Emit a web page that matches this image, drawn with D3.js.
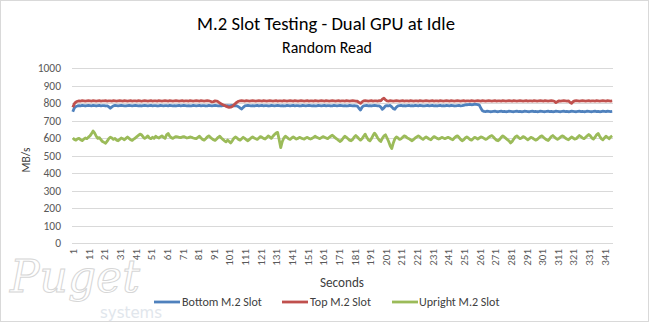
<!DOCTYPE html>
<html>
<head>
<meta charset="utf-8">
<script src="https://cdn.jsdelivr.net/npm/d3@7"></script>
<style>
  html, body { margin: 0; padding: 0; background: #fff; }
  svg { display: block; }
  text { font-family: Calibri, Carlito, Lato, "Open Sans", sans-serif; }
</style>
</head>
<body>
<svg id="chart" width="650" height="323"></svg>
<script>
// ---------------- DATA ----------------
const chartTitle = "M.2 Slot Testing - Dual GPU at Idle";
const chartSubtitle = "Random Read";
const yAxisTitle = "MB/s";
const xAxisTitle = "Seconds";
const seriesNames = ["Bottom M.2 Slot", "Top M.2 Slot", "Upright M.2 Slot"];
const seriesColors = ["#4f81bd", "#c0504d", "#9bbb59"];
const yTicks = [0, 100, 200, 300, 400, 500, 600, 700, 800, 900, 1000];

const bottomSlot = [
750,772,780,783,785,784,786,785,783,785,786,785,784,786,785,783,785,786,784,785,
785,783,784,779,770,778,784,786,785,784,785,786,785,784,783,785,786,785,784,785,
786,785,784,785,783,785,786,785,784,785,786,784,785,785,783,784,786,785,784,785,
785,784,786,785,784,785,783,785,786,784,785,786,785,784,785,783,784,786,785,784,
785,786,784,785,785,783,784,786,785,784,785,786,785,784,785,783,785,786,784,785,
784,785,786,784,785,783,779,771,766,775,783,785,786,785,784,785,783,785,786,784,
785,786,784,785,785,783,784,786,785,784,785,786,785,784,785,783,784,786,785,784,
785,786,784,785,785,783,784,786,785,784,785,786,785,784,785,783,784,786,785,784,
785,786,784,785,785,783,784,786,785,784,785,786,785,784,785,783,784,786,785,784,
785,784,782,770,760,776,784,785,786,784,785,783,785,786,785,784,783,776,764,772,
783,785,784,786,778,768,764,777,784,785,786,784,785,783,785,786,784,785,784,786,
785,784,786,785,783,784,785,786,784,785,786,784,785,783,785,786,784,785,784,786,
785,784,786,785,783,784,785,786,784,785,787,789,790,791,792,790,791,793,792,791,
788,770,756,752,751,753,752,750,751,752,753,751,750,752,753,751,752,750,751,753,
752,751,750,752,753,751,752,750,751,753,752,751,750,752,753,751,752,750,751,753,
752,751,750,752,753,751,752,750,751,753,752,751,750,752,753,751,752,750,751,753,
752,751,750,752,753,751,752,750,751,753,752,751,750,752,753,751,752,750,751,753,
752,751,753,752,751,752
];

const topSlot = [
776,796,806,810,812,811,813,812,811,812,813,812,811,813,812,811,812,813,811,812,
812,813,811,812,812,811,813,812,811,812,813,812,811,813,812,811,812,813,811,812,
812,811,813,812,810,812,813,812,811,812,813,811,812,812,811,813,812,811,812,813,
812,811,813,812,811,812,813,812,811,812,813,811,812,812,811,813,812,811,812,813,
812,811,813,812,811,812,813,812,810,806,808,812,811,807,800,795,790,786,782,778,
775,776,780,788,797,805,810,812,813,812,811,813,812,811,812,813,812,811,812,813,
812,811,813,812,811,812,813,812,811,812,813,811,812,812,811,813,812,811,812,813,
812,811,813,812,811,812,813,812,811,812,813,811,812,812,811,813,812,811,812,813,
812,811,813,812,811,812,813,812,811,812,813,811,812,812,811,813,812,811,812,813,
812,811,810,804,798,806,812,813,812,811,812,813,811,812,812,811,813,812,822,828,
818,812,811,813,812,811,812,813,812,811,812,813,811,812,812,811,813,812,811,812,
812,811,813,812,811,812,813,812,811,812,813,811,812,812,811,813,812,811,812,813,
812,811,813,812,811,812,813,812,811,812,813,811,812,812,811,813,812,811,812,813,
812,811,813,812,811,812,813,812,811,812,813,811,812,812,811,813,812,811,812,813,
812,811,813,812,811,812,813,812,811,812,813,811,812,812,811,813,812,811,812,813,
812,811,813,812,811,812,813,812,810,802,808,812,811,812,813,812,811,812,804,798,
808,812,813,812,811,812,813,812,811,812,813,811,812,812,811,813,812,811,812,813,
812,811,813,812,811,812
];

const uprightSlot = [
600,592,588,595,598,590,585,593,600,596,605,612,625,640,628,610,598,602,590,580,
575,570,582,596,605,600,592,598,588,584,592,600,596,590,598,606,598,590,586,594,
600,608,615,622,618,606,598,604,612,600,596,604,598,610,604,600,606,612,604,598,
618,626,610,602,598,604,608,606,604,602,606,608,604,600,602,606,604,600,598,596,
604,610,600,592,588,596,606,612,604,596,590,586,594,604,610,600,592,584,578,588,
580,572,584,598,606,600,592,588,596,604,598,590,584,592,600,606,600,596,592,600,
608,604,598,594,602,612,606,598,610,620,628,632,590,545,580,600,610,604,596,592,
600,606,600,594,598,604,600,596,594,600,604,598,594,598,604,610,604,600,596,602,
608,604,600,596,604,610,616,608,600,594,586,580,588,600,610,604,596,588,584,592,
606,614,606,596,588,596,610,622,604,590,584,596,614,628,616,600,588,580,598,612,
618,600,580,556,540,572,596,606,600,592,596,604,612,608,600,596,590,584,592,600,
606,612,606,598,592,600,606,600,594,590,600,608,604,598,594,598,604,600,596,600,
604,600,594,590,600,608,612,604,592,584,590,600,606,600,592,588,596,604,600,594,
600,606,604,598,592,596,604,610,614,606,596,588,584,592,604,612,606,598,590,584,
572,580,594,606,612,604,596,600,608,604,596,590,596,604,600,594,588,592,600,608,
612,604,596,590,586,596,608,614,606,598,592,598,606,612,608,600,594,590,598,606,
600,594,596,606,614,608,600,596,604,612,620,612,600,594,604,618,626,610,596,590,
600,610,604,596,606,612
];

const seriesValues = [bottomSlot, topSlot, uprightSlot];
const nCategories = d3.max(seriesValues, s => s.length);
const categories = d3.range(1, nCategories + 1);
const xTickLabels = categories.filter(c => (c - 1) % 10 === 0);

// ---------------- LAYOUT ----------------
const W = 650, H = 323;
const plot = { left: 72, right: 613, top: 68, bottom: 243 };

const svg = d3.select("#chart");
svg.append("rect").attr("x", 0.5).attr("y", 0.5).attr("width", W - 2).attr("height", H - 2)
  .attr("fill", "#fff").attr("stroke", "#d9d9d9");

function fitWidth(sel, target) {
  const len = sel.node().getComputedTextLength();
  const fs = parseFloat(sel.style("font-size"));
  if (len > 0) sel.style("font-size", (fs * target / len) + "px");
}

// Watermark (logo)
svg.append("text").attr("x", 10).attr("y", 292)
  .style("font-family", "'DejaVu Serif', serif").style("font-style", "italic")
  .style("font-size", "44px").attr("fill", "none").attr("stroke", "#d6d6d6").attr("stroke-width", 1)
  .text("Puget");
svg.append("text").attr("x", 100).attr("y", 318)
  .style("font-family", "'DejaVu Sans', sans-serif").style("font-size", "15px")
  .attr("fill", "#e1e6ec").text("systems");

// Titles
const t1 = svg.append("text").attr("x", 326).attr("y", 30).attr("text-anchor", "middle")
  .style("font-size", "18px").attr("fill", "#000").text(chartTitle);
fitWidth(t1, 258);
const t2 = svg.append("text").attr("x", 327).attr("y", 53).attr("text-anchor", "middle")
  .style("font-size", "14px").attr("fill", "#000").text(chartSubtitle);
fitWidth(t2, 90);

// Scales
const x = d3.scalePoint().domain(categories).range([plot.left, plot.right]).padding(0.5);
const y = d3.scaleLinear().domain([0, 1000]).range([plot.bottom, plot.top]);

// Gridlines
svg.append("g").selectAll("line").data(yTicks).join("line")
  .attr("x1", plot.left).attr("x2", plot.right)
  .attr("y1", d => Math.round(y(d)) + 0.5).attr("y2", d => Math.round(y(d)) + 0.5)
  .attr("stroke", "#d9d9d9").attr("stroke-width", 1);

// Y axis labels
const yAxis = d3.axisLeft(y).tickValues(yTicks).tickFormat(d3.format("d")).tickSize(0).tickPadding(0);
const yg = svg.append("g").attr("transform", `translate(${plot.left - 11},0)`).call(yAxis);
yg.select(".domain").remove();
yg.selectAll("text").style("font-family", "Calibri, Carlito, Lato, sans-serif")
  .style("font-size", "11.5px").attr("fill", "#595959");

// X axis labels
const xAxis = d3.axisBottom(x).tickValues(xTickLabels).tickSize(0);
const xg = svg.append("g").attr("transform", `translate(0,${plot.bottom})`).call(xAxis);
xg.select(".domain").remove();
xg.selectAll("text")
  .attr("transform", "rotate(-90)")
  .attr("x", -6).attr("y", 0).attr("dy", "0.35em")
  .style("text-anchor", "end")
  .style("font-family", "Calibri, Carlito, Lato, sans-serif")
  .style("font-size", "11px").attr("fill", "#595959");

// Axis titles
svg.append("text").attr("transform", "translate(30,160) rotate(-90)")
  .attr("text-anchor", "middle").style("font-size", "11.5px").attr("fill", "#404040").text(yAxisTitle);
const xt = svg.append("text").attr("x", 342).attr("y", 287).attr("text-anchor", "middle")
  .style("font-size", "12px").attr("fill", "#404040").text(xAxisTitle);
fitWidth(xt, 44);

// Lines
const line = d3.line().x((d, i) => x(categories[i])).y(d => y(d));
svg.append("g").selectAll("path").data(seriesValues).join("path")
  .attr("d", d => line(d))
  .attr("fill", "none")
  .attr("stroke", (d, i) => seriesColors[i])
  .attr("stroke-width", 2.8)
  .attr("stroke-linejoin", "round");

// Legend
const legendItems = [
  { lx: 154, tx: 182 },
  { lx: 282, tx: 310 },
  { lx: 392, tx: 419 }
];
const lg = svg.append("g");
const legendTexts = [];
seriesNames.forEach((name, i) => {
  lg.append("line").attr("x1", legendItems[i].lx).attr("x2", legendItems[i].lx + 26)
    .attr("y1", 302).attr("y2", 302).attr("stroke", seriesColors[i]).attr("stroke-width", 2.8);
  const t = lg.append("text").attr("x", legendItems[i].tx).attr("y", 306)
    .style("font-size", "12px").attr("fill", "#404040").text(name);
  legendTexts.push(t);
});
fitWidth(legendTexts[0], 80);
const lfs = legendTexts[0].style("font-size");
legendTexts.forEach(t => t.style("font-size", lfs));
</script>
</body>
</html>
